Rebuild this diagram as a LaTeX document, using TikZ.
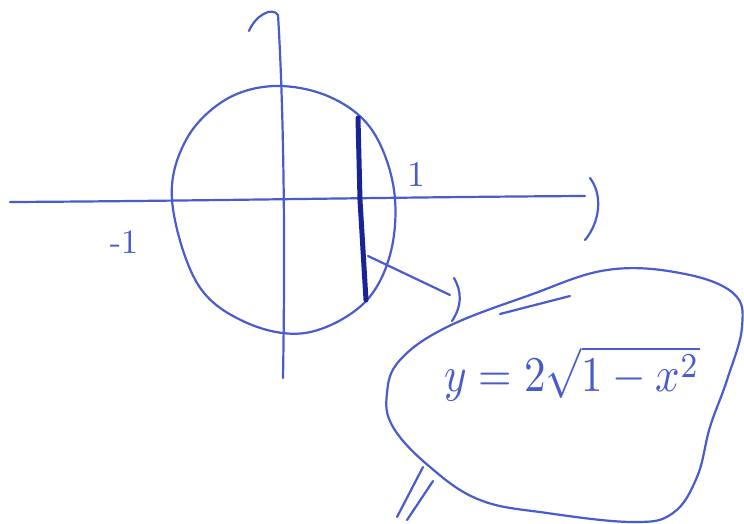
\documentclass[tikz,border=0pt]{standalone}
\usepackage{amsmath}
\usepackage{graphicx}
\begin{document}
\begin{tikzpicture}[x=1pt,y=-1pt,line cap=round,line join=round]
\definecolor{pen}{RGB}{72,92,205}
\definecolor{ink}{RGB}{25,35,150}
\tikzset{penline/.style={draw=pen,line width=2.2pt},
 inkline/.style={draw=ink,line width=5pt},
 lbl/.style={text=pen,inner sep=0pt}}
\useasboundingbox[fill=white] (0,0) rectangle (744,523);
% axes
\draw[penline] (10,202) .. controls (200,201) and (400,197) .. (585,196);
\draw[penline] (590,178) .. controls (603,195) and (600,222) .. (585,240);
\draw[penline] (249,31) .. controls (255,16) and (272,6) .. (278,15)
  .. controls (282,80) and (286,200) .. (283,378);
% circle
\draw[penline] plot[smooth cycle,tension=0.6] coordinates {(172,200) (186,140) (225,100) (275,86) (330,97) (372,130) (394,190) (390,255) (362,305) (305,333) (245,322) (197,283)};
% chord
\draw[inkline] (358,118) -- (360,200) -- (366,300);
% labels
\node[lbl] (one) at (416,175) {\scalebox{3.6}{1}};
\node[lbl] (mone) at (124,242) {\scalebox{3.4}{-1}};
% pointer
\coordinate (ch) at (368,256);
\coordinate (pt) at (450,295);
\draw[penline] (ch) -- (pt);
\draw[penline] (454,278) .. controls (462,292) and (462,306) .. (452,321);
% blob
\draw[penline] plot[smooth cycle,tension=0.65] coordinates {(447,327) (530,295) (607,270) (680,273) (733,293) (742,327) (727,380) (710,427) (697,477) (673,513) (633,522) (547,513) (480,500) (430,467) (393,427) (387,393) (400,360)};
\draw[penline] (500,314) -- (570,296);
% tail
\coordinate (t1) at (423,467);
\draw[penline] (t1) -- (397,517);
\draw[penline] (433,481) -- (407,520);
% formula
\node[lbl] (f) at (572,374) {\scalebox{4.3}[5.0]{$y=2\sqrt{1-x^{2}}$}};
\end{tikzpicture}
\end{document}
